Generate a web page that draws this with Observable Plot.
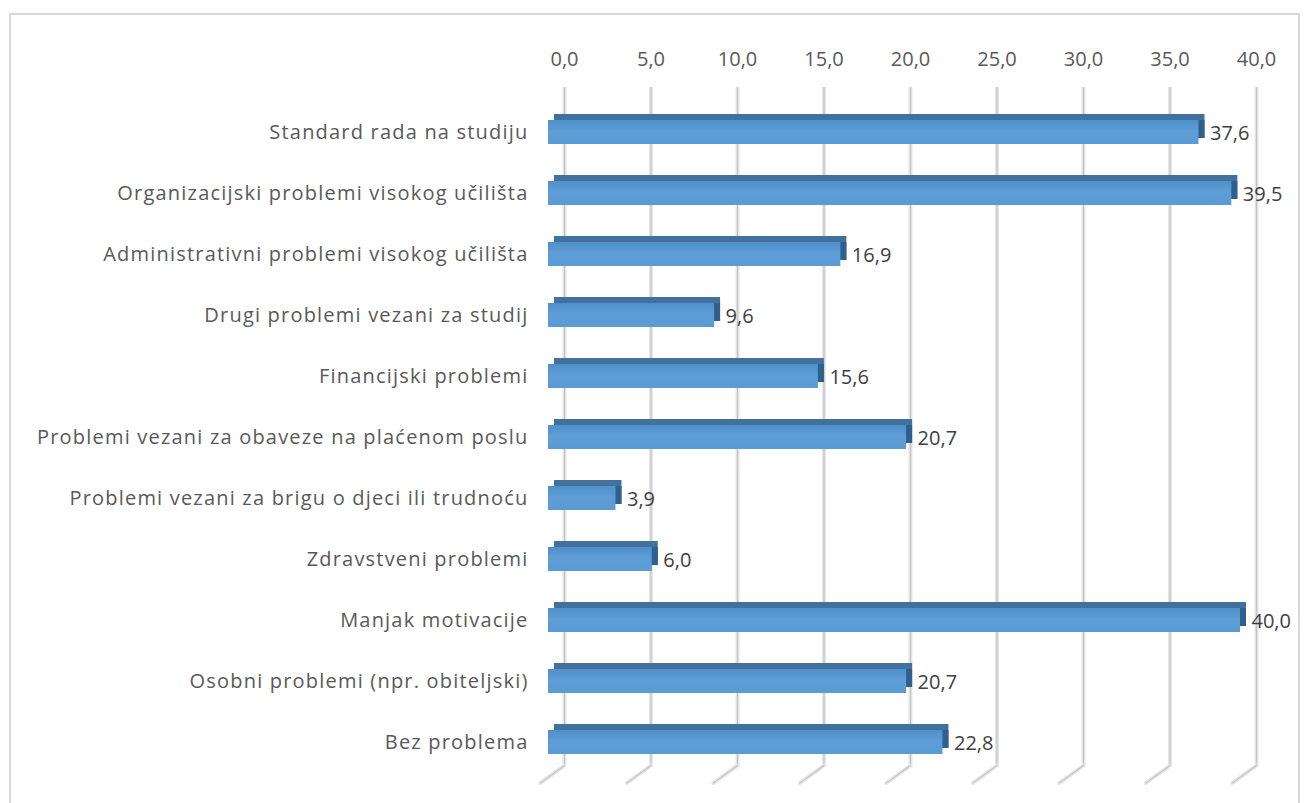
<!DOCTYPE html>
<html>
<head>
<meta charset="utf-8">
<script src="https://cdn.jsdelivr.net/npm/d3@7"></script>
<script src="https://cdn.jsdelivr.net/npm/@observablehq/plot@0.6"></script>
<style>
  html, body { margin: 0; padding: 0; background: #fff; }
  #frame { position: absolute; left: 9px; top: 13px; width: 1291px; height: 820px; border: 2px solid #d9d9d9; box-sizing: border-box; }
  #chart { position: absolute; left: 0; top: 0; }
  .cat text { letter-spacing: 1.2px; }
</style>
</head>
<body>
<div id="frame"></div>
<div id="chart"></div>
<script>
const categories = [
  "Standard rada na studiju",
  "Organizacijski problemi visokog učilišta",
  "Administrativni problemi visokog učilišta",
  "Drugi problemi vezani za studij",
  "Financijski problemi",
  "Problemi vezani za obaveze na plaćenom poslu",
  "Problemi vezani za brigu o djeci ili trudnoću",
  "Zdravstveni problemi",
  "Manjak motivacije",
  "Osobni problemi (npr. obiteljski)",
  "Bez problema"
];
const values = [37.6, 39.5, 16.9, 9.6, 15.6, 20.7, 3.9, 6.0, 40.0, 20.7, 22.8];
const ticks = [0, 5, 10, 15, 20, 25, 30, 35, 40];

const data = categories.map((c, i) => ({category: c, value: values[i]}));
const fmt = d => d.toFixed(1).replace(".", ",");
const font = "'Open Sans', 'Noto Sans', sans-serif";

const spike = {
  draw(context, l) { context.moveTo(0, 0); context.lineTo(0, -l); }
};

const chart = Plot.plot({
  width: 1309,
  height: 803,
  marginLeft: 548,
  marginRight: 69,
  marginTop: 100,
  marginBottom: 28,
  style: {fontFamily: font, fontSize: "20px", color: "#595959", background: "transparent"},
  x: {domain: [0, 40], ticks: ticks},
  y: {domain: categories, paddingInner: 0.6, paddingOuter: 0.3},
  marks: [
    // back-wall gridlines
    Plot.ruleX(ticks, {x: d => d, dx: 16, insetTop: -13, insetBottom: 10, stroke: "#e6e6e6", strokeWidth: 4}),
    Plot.ruleX(ticks, {x: d => d, dx: 16, insetTop: -13, insetBottom: 10, stroke: "#c4c4c4", strokeWidth: 1.2}),
    // floor diagonals
    Plot.vector(ticks, {x: d => d, frameAnchor: "bottom", dx: 16, dy: -10, anchor: "start", length: 30, rotate: 234, shape: spike, stroke: "#e6e6e6", strokeWidth: 4}),
    Plot.vector(ticks, {x: d => d, frameAnchor: "bottom", dx: 16, dy: -10, anchor: "start", length: 30, rotate: 234, shape: spike, stroke: "#c4c4c4", strokeWidth: 1.2}),
    // 3D depth (top + side faces)
    Plot.barX(data, {x: "value", y: "category", dx: 6, dy: -6, fill: "#41719c"}),
    Plot.barX(data, {x: "value", y: "category", dx: 6, dy: -6, insetTop: 6, fill: "#2f5f8c"}),
    // front face
    Plot.barX(data, {x: "value", y: "category", fill: "url(#barGrad)"}),
    // value labels
    Plot.text(data, {x: "value", y: "category", text: d => fmt(d.value), dx: 11, dy: 1, textAnchor: "start", fill: "#404040", fontSize: 20}),
    Plot.axisX(ticks, {anchor: "top", tickSize: 0, tickPadding: 35, dx: 16, tickFormat: fmt, fill: "#595959", fontSize: 20, label: null}),
    Plot.axisY({tickSize: 0, tickPadding: 20, fill: "#595959", fontSize: 20, label: null, className: "cat"})
  ]
});

// gradient definition for the bar front faces
const defs = d3.select(chart).insert("defs", ":first-child");
const g = defs.append("linearGradient").attr("id", "barGrad").attr("x1", 0).attr("y1", 0).attr("x2", 0).attr("y2", 1);
g.append("stop").attr("offset", "0%").attr("stop-color", "#4f8fca");
g.append("stop").attr("offset", "45%").attr("stop-color", "#5e9dd6");
g.append("stop").attr("offset", "100%").attr("stop-color", "#5b9bd5");

document.getElementById("chart").appendChild(chart);
</script>
</body>
</html>
